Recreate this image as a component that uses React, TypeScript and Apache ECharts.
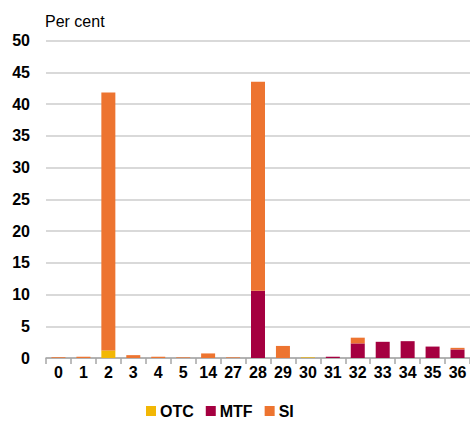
import React, { useEffect, useRef } from "react";
import * as echarts from "echarts";

const categories = ["0", "1", "2", "3", "4", "5", "14", "27", "28", "29", "30", "31", "32", "33", "34", "35", "36"];
const otcValues = [0, 0, 1.2, 0, 0, 0, 0, 0, 0, 0, 0.1, 0, 0, 0, 0, 0, 0];
const mtfValues = [0, 0, 0, 0, 0, 0, 0, 0, 10.6, 0, 0, 0.2, 2.3, 2.55, 2.65, 1.8, 1.35];
const siValues = [0.12, 0.2, 40.6, 0.45, 0.2, 0.1, 0.72, 0.1, 32.9, 1.9, 0, 0, 0.9, 0, 0, 0, 0.25];
const yTicks = { min: 0, max: 50, interval: 5 };

const COLORS = { OTC: "#F2B705", MTF: "#A50040", SI: "#ED7430" };

export default function App() {
  const ref = useRef<HTMLDivElement>(null);
  useEffect(() => {
    document.body.style.margin = "0";
    const chart = echarts.init(ref.current!, null, { renderer: "svg" });
    const font = "Arial, 'Liberation Sans', sans-serif";
    const mk = (name: string, data: number[]) => ({
      name,
      type: "bar",
      stack: "total",
      data,
      barWidth: 14,
      itemStyle: { color: (COLORS as any)[name] },
    });
    chart.setOption({
      animation: false,
      textStyle: { fontFamily: font },
      graphic: [
        {
          type: "text",
          left: 45,
          top: 13,
          style: { text: "Per cent", font: "16px " + font, fill: "#000" },
        },
      ],
      grid: { left: 46, right: -1, top: 40.5, bottom: 67, containLabel: false },
      legend: {
        bottom: 1,
        left: 141,
        itemWidth: 10,
        itemHeight: 10,
        itemGap: 12,
        icon: "rect",
        textStyle: { fontSize: 16, fontWeight: "bold", color: "#000", fontFamily: font, padding: [0, 0, 0, -1] },
        data: ["OTC", "MTF", "SI"],
      },
      xAxis: {
        type: "category",
        data: categories,
        axisLine: { lineStyle: { color: "#a6a6a6", width: 1.5 } },
        axisTick: { show: true, length: 6, lineStyle: { color: "#a6a6a6", width: 1.5 } },
        axisLabel: { fontSize: 16, fontWeight: "bold", color: "#000", margin: 6, interval: 0, fontFamily: font },
      },
      yAxis: {
        type: "value",
        min: yTicks.min,
        max: yTicks.max,
        interval: yTicks.interval,
        axisLine: { show: false },
        axisTick: { show: false },
        splitLine: { lineStyle: { color: "#cccccc", width: 1.5 } },
        axisLabel: { fontSize: 16, fontWeight: "bold", color: "#000", margin: 16, fontFamily: font },
      },
      series: [mk("OTC", otcValues), mk("MTF", mtfValues), mk("SI", siValues)],
    });
    return () => chart.dispose();
  }, []);
  return <div ref={ref} style={{ width: 470, height: 425 }} />;
}
